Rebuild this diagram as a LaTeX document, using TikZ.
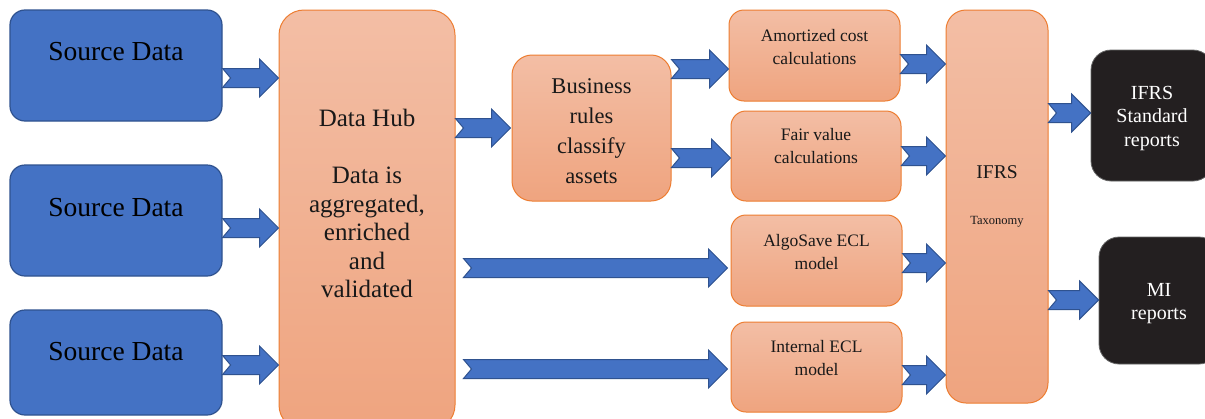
\documentclass[tikz,border=0pt]{standalone}
\usepackage{fontspec}
\setmainfont{Liberation Serif}
\usetikzlibrary{calc}
\definecolor{srcblue}{HTML}{4472C4}
\definecolor{srcedge}{HTML}{2F528F}
\definecolor{peachtop}{HTML}{F3BEA5}
\definecolor{peachbot}{HTML}{EFA47F}
\definecolor{peachedge}{HTML}{ED7D31}
\definecolor{repblack}{HTML}{231F20}
\tikzset{
	src/.style={rectangle,rounded corners=15pt,draw=srcedge,line width=1.2pt,fill=srcblue,minimum width=212pt},
	peach/.style={rectangle,draw=peachedge,line width=1pt,top color=peachtop,bottom color=peachbot},
	calcbox/.style={peach,rounded corners=15pt,minimum width=171pt,minimum height=91pt},
	rep/.style={rectangle,rounded corners=20pt,draw=black!60,line width=0.8pt,fill=repblack},
	reptext/.style={align=center,text=white,font=\fontsize{20}{23.5}\selectfont},
	srctext/.style={font=\fontsize{27.5}{32}\selectfont,text=black},
	boxtext/.style={align=center,text=black!90,font=\fontsize{17.5}{23}\selectfont},
	barrow/.style={draw=srcedge,line width=1pt,fill=srcblue,line join=miter}
}
\newcommand{\blockarrow}[2]{%
	\draw[barrow] let \p1=#1, \p2=#2 in
		(\x1,\y1+9.5pt) -- (\x2-19pt,\y1+9.5pt) -- (\x2-19pt,\y1+19pt) -- (\x2,\y1)
		-- (\x2-19pt,\y1-19pt) -- (\x2-19pt,\y1-9.5pt) -- (\x1,\y1-9.5pt) -- (\x1+8pt,\y1) -- cycle;}

\begin{document}
\begin{tikzpicture}[x=1pt,y=-1pt]
	\clip (0,0) rectangle (1205,418);
	\fill[white] (0,0) rectangle (1205,418);

	\node[src,minimum height=111pt] (s1) at (116,65.5) {};
	\node[src,minimum height=111pt] (s2) at (116,220.5) {};
	\node[src,minimum height=105pt] (s3) at (116,362.5) {};
	\node[srctext] (s1t) at (116,52) {Source Data};
	\node[srctext] (s2t) at (116,208) {Source Data};
	\node[srctext] (s3t) at (116,352) {Source Data};

	\node[peach,rounded corners=25pt,minimum width=176pt,minimum height=420pt] (hub) at (367,220) {};
	\node[align=center,text=black!90,font=\fontsize{25}{28.5}\selectfont] (hubt) at (367,203.5)
		{Data Hub\\[28.5pt]Data is\\aggregated,\\enriched\\and\\validated};

	\node[peach,rounded corners=20pt,minimum width=159pt,minimum height=146pt] (biz) at (591.5,128) {};
	\node[align=center,text=black!90,font=\fontsize{22.5}{30}\selectfont] (bizt) at (591.5,131)
		{Business\\rules\\classify\\assets};

	\node[calcbox] (amort) at (814.5,55.5) {};
	\node[calcbox,minimum width=170pt,minimum height=90pt] (fair) at (816,156) {};
	\node[calcbox] (algo) at (816.5,260.5) {};
	\node[calcbox,minimum height=90pt] (intl) at (816.5,367) {};
	\node[boxtext] (amortt) at (814.5,47) {Amortized cost\\calculations};
	\node[boxtext] (fairt) at (816,146.5) {Fair value\\calculations};
	\node[boxtext] (algot) at (816.5,252) {AlgoSave ECL\\model};
	\node[boxtext] (intlt) at (816.5,358.5) {Internal ECL\\model};

	\node[peach,rounded corners=20pt,minimum width=102pt,minimum height=393pt] (ifrs) at (997,206.5) {};
	\node[text=black!90,font=\fontsize{19.5}{23}\selectfont] (ifrst) at (997,172) {IFRS};
	\node[text=black!90,font=\fontsize{12.5}{15}\selectfont] (taxt) at (997,221.5) {Taxonomy};

	\node[rep,minimum width=122pt,minimum height=131pt] (std) at (1152,115.5) {};
	\node[rep,minimum width=120pt,minimum height=127pt] (mi) at (1159,300.5) {};
	\node[reptext] (stdt) at (1152,118.5) {IFRS\\Standard\\reports};
	\node[reptext] (mit) at (1159,303.5) {MI\\reports};

	\blockarrow{([yshift=-12.5]s1.east)}{(hub.west)}
	\blockarrow{([yshift=-7.5]s2.east)}{(hub.west)}
	\blockarrow{([yshift=-2.5]s3.east)}{(hub.west)}
	\blockarrow{([yshift=92]hub.east)}{([xshift=-1]biz.west)}
	\blockarrow{([xshift=8,yshift=-48]hub.east)}{([xshift=-3]algo.west)}
	\blockarrow{([xshift=8,yshift=-149]hub.east)}{([xshift=-3]intl.west)}
	\blockarrow{([yshift=59]biz.east)}{(amort.west)}
	\blockarrow{([yshift=-30]biz.east)}{(fair.west)}
	\blockarrow{([yshift=-8.5]amort.east)}{(ifrs.west)}
	\blockarrow{(fair.east)}{(ifrs.west)}
	\blockarrow{([yshift=-2.5]algo.east)}{(ifrs.west)}
	\blockarrow{([yshift=-8]intl.east)}{(ifrs.west)}
	\blockarrow{([yshift=93.5]ifrs.east)}{(std.west)}
	\blockarrow{([yshift=-93.5]ifrs.east)}{(mi.west)}
\end{tikzpicture}
\end{document}
